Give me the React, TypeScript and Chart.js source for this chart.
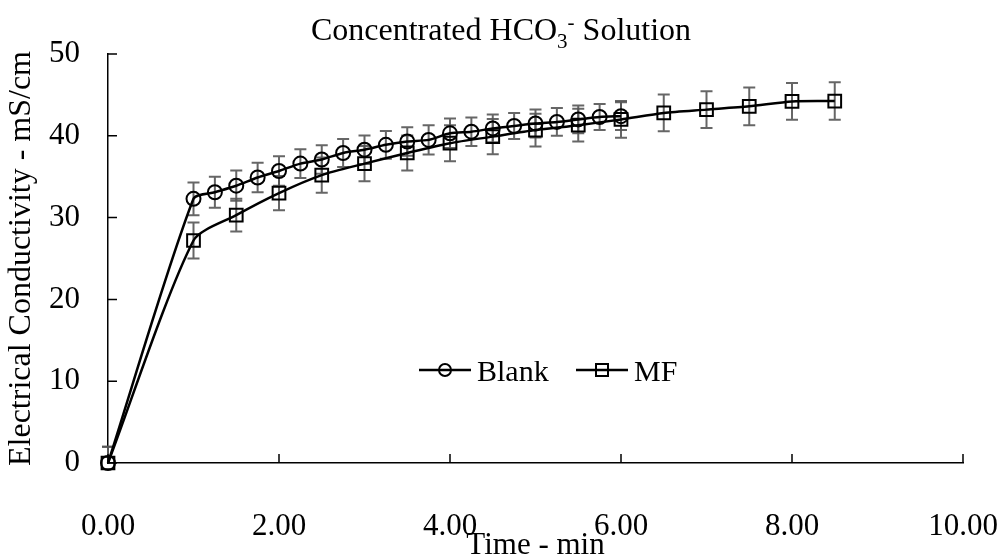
import React, { useEffect, useRef } from "react";
import { Chart, registerables } from "chart.js";

Chart.register(...registerables);

// ---------- data ----------
const blankTime = [0, 1, 1.25, 1.5, 1.75, 2, 2.25, 2.5, 2.75, 3, 3.25, 3.5, 3.75, 4, 4.25, 4.5, 4.75, 5, 5.25, 5.5, 5.75, 6];
const blankEC = [0, 32.3, 33.1, 33.9, 34.9, 35.7, 36.6, 37.1, 37.9, 38.3, 38.9, 39.3, 39.5, 40.3, 40.5, 40.9, 41.2, 41.5, 41.7, 42.0, 42.3, 42.4];
const blankErr = [2.0, 2.0, 1.9, 1.85, 1.8, 1.8, 1.75, 1.75, 1.7, 1.75, 1.7, 1.75, 1.8, 1.8, 1.75, 1.7, 1.6, 1.7, 1.7, 1.7, 1.6, 1.7];

const mfTime = [0, 1, 1.5, 2, 2.5, 3, 3.5, 4, 4.5, 5, 5.5, 6, 6.5, 7, 7.5, 8, 8.5];
const mfEC = [0, 27.2, 30.3, 33.0, 35.2, 36.6, 37.9, 39.1, 39.9, 40.7, 41.3, 42.0, 42.8, 43.2, 43.6, 44.2, 44.25];
const mfErr = [2.0, 2.2, 2.0, 2.1, 2.15, 2.15, 2.15, 2.2, 2.15, 2.0, 2.0, 2.25, 2.25, 2.25, 2.3, 2.25, 2.3];

const seriesNames = ["Blank", "MF"];
const xTicks = [0, 2, 4, 6, 8, 10];
const yTicks = [0, 10, 20, 30, 40, 50];

const titleMain = "Concentrated HCO";
const titleSub = "3";
const titleSup = "-";
const titleTail = " Solution";
const xTitle = "Time - min";
const yTitle = "Electrical Conductivity - mS/cm";

const FONT = "'Liberation Serif', 'Times New Roman', serif";
const errColor = "rgba(85,85,85,0.9)";

const customPlugin = {
  id: "custom",
  beforeDatasetsDraw(chart: any) {
    const ctx = chart.ctx;
    const xs = chart.scales.x;
    const ys = chart.scales.y;
    const area = chart.chartArea;
    ctx.save();
    ctx.beginPath();
    ctx.rect(area.left - 10, area.top - 10, area.right - area.left + 20, area.bottom - area.top + 10);
    ctx.clip();
    ctx.strokeStyle = errColor;
    ctx.lineWidth = 2;
    chart.data.datasets.forEach((ds: any) => {
      const errs = ds.errors as number[];
      ds.data.forEach((p: any, i: number) => {
        const px = xs.getPixelForValue(p.x);
        const top = ys.getPixelForValue(p.y + errs[i]);
        const bot = ys.getPixelForValue(p.y - errs[i]);
        ctx.beginPath();
        ctx.moveTo(px, top);
        ctx.lineTo(px, bot);
        ctx.moveTo(px - 6, top);
        ctx.lineTo(px + 6, top);
        ctx.moveTo(px - 6, bot);
        ctx.lineTo(px + 6, bot);
        ctx.stroke();
      });
    });
    ctx.restore();
  },
  afterDraw(chart: any) {
    const ctx = chart.ctx;
    const xs = chart.scales.x;
    const ys = chart.scales.y;
    const area = chart.chartArea;
    ctx.save();
    // inner tick marks
    ctx.strokeStyle = "#000";
    ctx.lineWidth = 1.5;
    ctx.beginPath();
    yTicks.forEach((v) => {
      const y = ys.getPixelForValue(v);
      ctx.moveTo(area.left, y);
      ctx.lineTo(area.left + 9, y);
    });
    xTicks.forEach((v) => {
      const x = xs.getPixelForValue(v);
      ctx.moveTo(x, area.bottom);
      ctx.lineTo(x, area.bottom - 9);
    });
    ctx.stroke();

    // title with subscript / superscript
    const big = `32px ${FONT}`;
    const small = `21px ${FONT}`;
    ctx.fillStyle = "#000";
    ctx.textBaseline = "alphabetic";
    ctx.textAlign = "left";
    ctx.font = big;
    const w1 = ctx.measureText(titleMain).width;
    const w4 = ctx.measureText(titleTail).width;
    ctx.font = small;
    const w2 = ctx.measureText(titleSub).width;
    const w3 = ctx.measureText(titleSup).width;
    const total = w1 + w2 + w3 + w4;
    let tx = chart.width / 2 - total / 2;
    const base = 40;
    ctx.font = big;
    ctx.fillText(titleMain, tx, base);
    tx += w1;
    ctx.font = small;
    ctx.fillText(titleSub, tx, base + 8);
    tx += w2;
    ctx.fillText(titleSup, tx, base - 11);
    tx += w3;
    ctx.font = big;
    ctx.fillText(titleTail, tx, base);

    // legend inside plot
    const ly = 370;
    const legendFont = `30px ${FONT}`;
    const drawEntry = (x0: number, style: string, label: string) => {
      ctx.strokeStyle = "#000";
      ctx.lineWidth = 2.5;
      ctx.beginPath();
      ctx.moveTo(x0, ly);
      ctx.lineTo(x0 + 52, ly);
      ctx.stroke();
      ctx.lineWidth = 2;
      ctx.beginPath();
      if (style === "circle") {
        ctx.arc(x0 + 26, ly, 6, 0, Math.PI * 2);
      } else {
        ctx.rect(x0 + 26 - 6, ly - 6, 12, 12);
      }
      ctx.stroke();
      ctx.font = legendFont;
      ctx.fillStyle = "#000";
      ctx.textBaseline = "alphabetic";
      ctx.fillText(label, x0 + 58, ly + 11);
    };
    drawEntry(419, "circle", seriesNames[0]);
    drawEntry(576, "rect", seriesNames[1]);
    ctx.restore();
  },
};

export default function App() {
  const ref = useRef<HTMLCanvasElement | null>(null);
  useEffect(() => {
    document.body.style.margin = "0";
    const canvas = ref.current!;
    const chart = new Chart(canvas, {
      type: "line",
      data: {
        datasets: [
          {
            label: seriesNames[0],
            data: blankTime.map((t, i) => ({ x: t, y: blankEC[i] })),
            errors: blankErr,
            borderColor: "#000",
            borderWidth: 2.5,
            pointStyle: "circle",
            pointRadius: 7,
            pointBorderWidth: 2,
            pointBorderColor: "#000",
            pointBackgroundColor: "rgba(0,0,0,0)",
            tension: 0.25,
            clip: false,
          } as any,
          {
            label: seriesNames[1],
            data: mfTime.map((t, i) => ({ x: t, y: mfEC[i] })),
            errors: mfErr,
            borderColor: "#000",
            borderWidth: 2.5,
            pointStyle: "rect",
            pointRadius: 9,
            pointBorderWidth: 2,
            pointBorderColor: "#000",
            pointBackgroundColor: "rgba(0,0,0,0)",
            tension: 0.25,
            clip: false,
          } as any,
        ],
      },
      options: {
        responsive: false,
        animation: false,
        devicePixelRatio: 1,
        layout: { padding: { top: 54, right: 39, left: 0, bottom: 0 } },
        plugins: {
          legend: { display: false },
          title: { display: false },
          tooltip: { enabled: false },
        },
        scales: {
          x: {
            type: "linear",
            min: 0,
            max: 10,
            afterFit: (s: any) => {
              s.height = 95;
              s.paddingLeft = 0;
              s.paddingRight = 0;
            },
            afterBuildTicks: (s: any) => {
              s.ticks = xTicks.map((v) => ({ value: v }));
            },
            ticks: {
              color: "#000",
              font: { family: FONT, size: 31 },
              padding: 45,
              maxRotation: 0,
              callback: (v: any) => Number(v).toFixed(2),
            },
            grid: { display: false, drawTicks: false },
            border: { display: true, color: "#000", width: 1.5 },
            title: {
              display: true,
              text: xTitle,
              color: "#000",
              font: { family: FONT, size: 31, lineHeight: 0.8 },
              padding: { top: 0, bottom: 0 },
            },
          },
          y: {
            type: "linear",
            min: 0,
            max: 50,
            afterFit: (s: any) => {
              s.width = 108;
              s.paddingTop = 0;
              s.paddingBottom = 0;
            },
            afterBuildTicks: (s: any) => {
              s.ticks = yTicks.map((v) => ({ value: v }));
            },
            ticks: {
              color: "#000",
              font: { family: FONT, size: 31 },
              padding: 28,
            },
            grid: { display: false, drawTicks: false },
            border: { display: true, color: "#000", width: 1.5 },
            title: {
              display: true,
              text: yTitle,
              color: "#000",
              font: { family: FONT, size: 32, lineHeight: 1 },
              padding: { top: 6, bottom: 0 },
            },
          },
        },
      },
      plugins: [customPlugin],
    } as any);
    return () => chart.destroy();
  }, []);
  return (
    <div style={{ position: "absolute", left: 0, top: 0, width: 1002, height: 558, background: "#fff" }}>
      <canvas ref={ref} width={1002} height={558} style={{ width: 1002, height: 558, display: "block" }} />
    </div>
  );
}
